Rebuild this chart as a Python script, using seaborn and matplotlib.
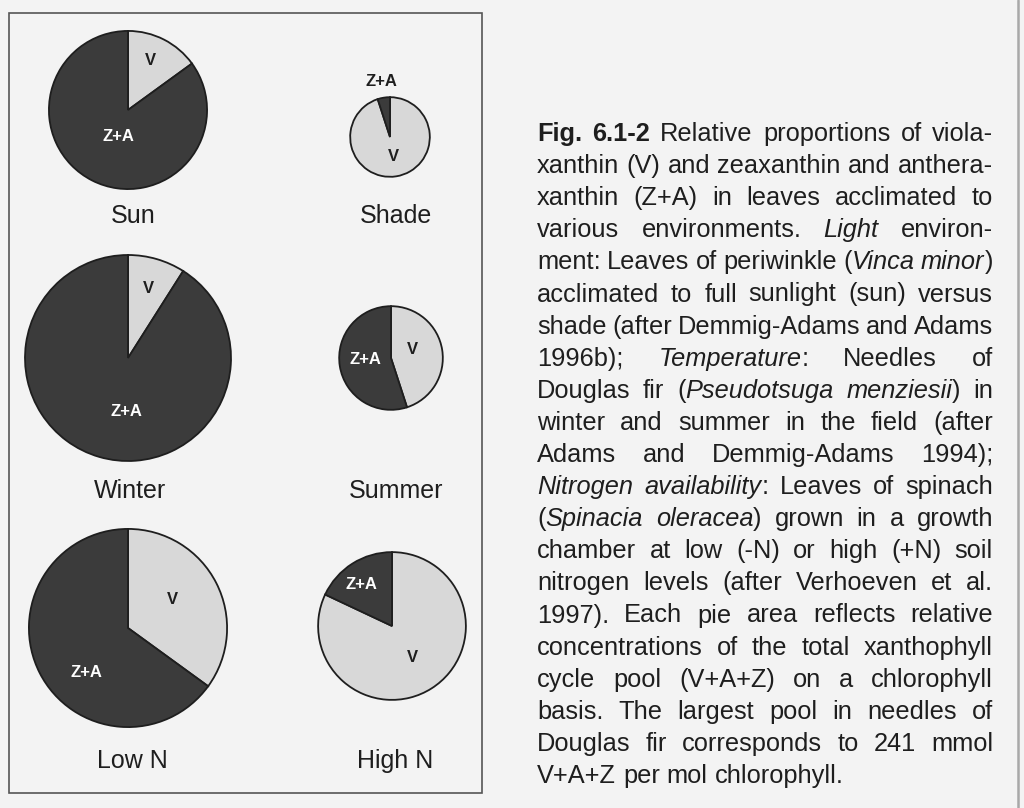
import re
import numpy as np
import seaborn as sns
import matplotlib.pyplot as plt
import matplotlib.patches as patches

# ---------------- data ----------------
panels   = ["Sun", "Shade", "Winter", "Summer", "Low N", "High N"]
v_pct    = [15, 95, 9, 45, 35, 82]      # violaxanthin share (%)
za_pct   = [85, 5, 91, 55, 65, 18]      # zeaxanthin + antheraxanthin share (%)
pool     = [142, 36, 241, 61, 223, 124]  # V+A+Z pool, mmol / mol Chl (pie area)
slice_names = ["V", "Z+A"]

caption_lines = [
    "**Fig. 6.1-2** Relative proportions of viola-",
    "xanthin (V) and zeaxanthin and anthera-",
    "xanthin (Z+A) in leaves acclimated to",
    "various environments. *Light* environ-",
    "ment: Leaves of periwinkle (*Vinca minor*)",
    "acclimated to full sunlight (sun) versus",
    "shade (after Demmig-Adams and Adams",
    "1996b); *Temperature*: Needles of",
    "Douglas fir (*Pseudotsuga menziesii*) in",
    "winter and summer in the field (after",
    "Adams and Demmig-Adams 1994);",
    "*Nitrogen availability*: Leaves of spinach",
    "(*Spinacia oleracea*) grown in a growth",
    "chamber at low (-N) or high (+N) soil",
    "nitrogen levels (after Verhoeven et al.",
    "1997). Each pie area reflects relative",
    "concentrations of the total xanthophyll",
    "cycle pool (V+A+Z) on a chlorophyll",
    "basis. The largest pool in needles of",
    "Douglas fir corresponds to 241 mmol",
    "V+A+Z per mol chlorophyll.",
]

# ---------------- layout (pixels, top-left origin) ----------------
W, H = 1024, 808
pie_xy   = [(128, 110), (390, 137), (128, 358), (391, 358), (128, 628), (392, 626)]
name_xy  = [(133, 223), (396, 223), (130, 498), (396, 498), (132, 768), (395, 768)]
# label distance (fraction of radius) and clockwise angle nudge (deg) for V / Z+A labels
lab_dist = [(0.69, 0.36), (0.50, 1.42), (0.70, 0.52), (0.44, 0.50), (0.53, 0.61), (0.51, 0.69)]
lab_turn = [(-3, -7), (0, 0), (0, -15), (-13, 5), (-6, -20), (0, -4)]
R_MAX = 103

sns.set_theme(style="white")
plt.rcParams['font.family'] = ['Liberation Sans', 'DejaVu Sans']

bg     = '#f3f3f3'
dark   = '#3b3b3b'
light  = '#d8d8d8'
ink    = '#1e1e1e'
pie_colors = [light, dark]

fig = plt.figure(figsize=(W / 100, H / 100), dpi=100, facecolor=bg)
ax = fig.add_axes([0, 0, 1, 1])
ax.set_facecolor(bg)

def fy(y):
    return H - y

# ─────────────────────────────────────────
# PIES
# ─────────────────────────────────────────
for i, name in enumerate(panels):
    cx, cy = pie_xy[i]
    r = R_MAX * np.sqrt(pool[i] / max(pool))
    wedges, _ = ax.pie([v_pct[i], za_pct[i]], colors=pie_colors,
                       center=(cx, fy(cy)), radius=r,
                       startangle=90, counterclock=False,
                       wedgeprops=dict(edgecolor=ink, linewidth=1.3))
    for j, w in enumerate(wedges):
        mid = np.deg2rad((w.theta1 + w.theta2) / 2 - lab_turn[i][j])
        d = lab_dist[i][j]
        outside = d > 1
        col = 'white' if (pie_colors[j] == dark and not outside) else ink
        ax.text(cx + r * d * np.cos(mid), fy(cy) + r * d * np.sin(mid), slice_names[j],
                ha='center', va='center', fontsize=12, fontweight='bold', color=col)
    nx, ny = name_xy[i]
    ax.text(nx, fy(ny), name, ha='center', va='baseline', fontsize=18, color=ink)

ax.add_patch(patches.Rectangle((9, fy(793)), 473, 780, fill=False,
                               edgecolor='#555555', linewidth=1.2))
# page edge on the right
ax.plot([1017.5, 1017.5], [0, H], color='#a8a8a8', linewidth=1.8)

ax.set_xlim(0, W)
ax.set_ylim(0, H)
ax.set_aspect('auto')
ax.axis('off')

# ─────────────────────────────────────────
# CAPTION (justified)
# ─────────────────────────────────────────
styles = {'normal': {}, 'bold': {'fontweight': 'bold'}, 'italic': {'fontstyle': 'italic'}}
CAP_FS = 18.3
LEFT, RIGHT = 537, 993
BASE0, STEP = 141, 32.1

def parse(line):
    runs = []
    for tok in re.split(r'(\*\*.*?\*\*|\*.*?\*)', line):
        if not tok:
            continue
        if tok.startswith('**'):
            runs.append((tok[2:-2], 'bold'))
        elif tok.startswith('*'):
            runs.append((tok[1:-1], 'italic'))
        else:
            runs.append((tok, 'normal'))
    words = [[]]
    for text, st in runs:
        for k, p in enumerate(text.split(' ')):
            if k > 0:
                words.append([])
            if p:
                words[-1].append((p, st))
    return [w for w in words if w]

renderer = fig.canvas.get_renderer()

def make(text, st, x, y):
    return ax.text(x, y, text, fontsize=CAP_FS, color=ink, va='baseline', ha='left', **styles[st])

def width(t):
    return t.get_window_extent(renderer).width

probe_a = make("x x", 'normal', 0, -100)
probe_b = make("xx", 'normal', 0, -100)
space_w = width(probe_a) - width(probe_b)
probe_a.remove()
probe_b.remove()

for li, line in enumerate(caption_lines):
    y = fy(BASE0 + li * STEP)
    words = parse(line)
    word_items = []
    for word in words:
        items = [make(t, st, 0, y) for t, st in word]
        word_items.append((items, sum(width(t) for t in items)))
    total = sum(w for _, w in word_items)
    last = li == len(caption_lines) - 1
    gap = space_w if last or len(word_items) < 2 else (RIGHT - LEFT - total) / (len(word_items) - 1)
    x = LEFT
    for items, ww in word_items:
        xx = x
        for t in items:
            t.set_x(xx)
            xx += width(t)
        x += ww + gap

fig.savefig('out.png', dpi=100, facecolor=bg)
